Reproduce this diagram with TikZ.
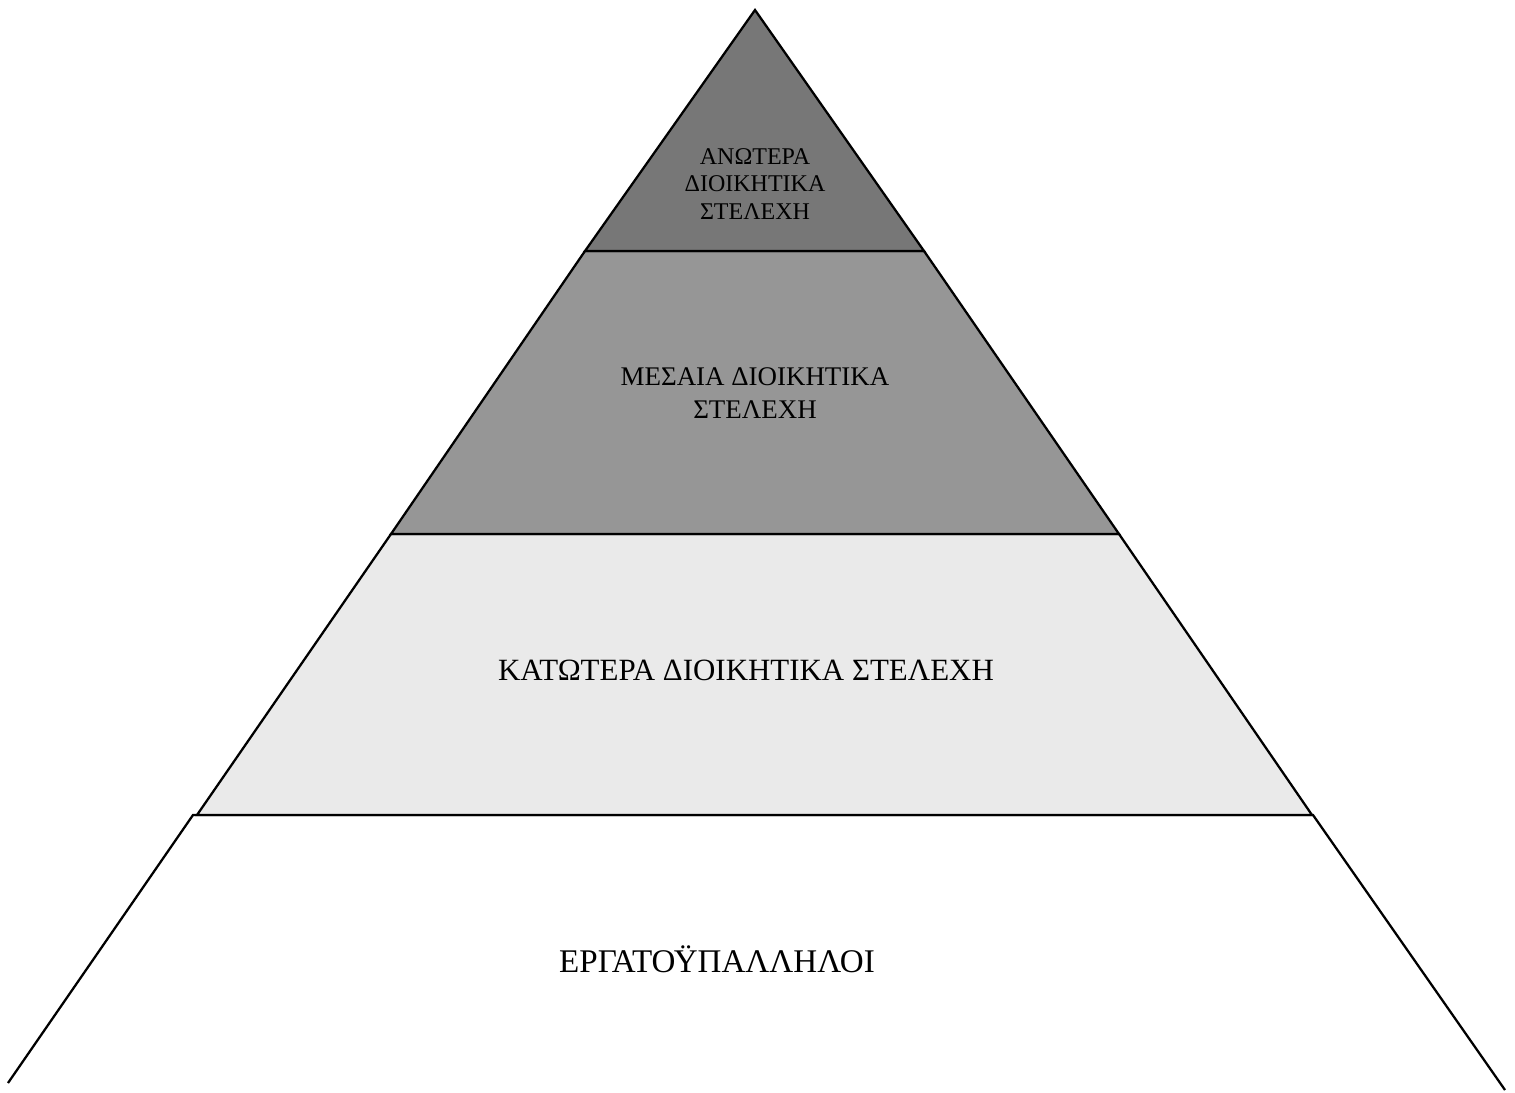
\documentclass[tikz,border=0pt]{standalone}
\usepackage{fontspec}
\setmainfont{Liberation Serif}
\definecolor{topgray}{HTML}{777777}
\definecolor{midgray}{HTML}{969696}
\definecolor{lowgray}{HTML}{EAEAEA}
\begin{document}
\begin{tikzpicture}[x=0.375pt,y=-0.375pt,
  band/.style={draw=black,line width=0.85pt,line join=miter},
  lbl/.style={inner sep=0pt,align=center,text=black}]
\useasboundingbox (0,0) rectangle (1515,1092);
% pyramid tiers, from the base up
\draw[band,fill=white] (8,1083) -- (193,815) -- (1313,815) -- (1505,1090);
\draw[band,fill=lowgray] (197,815) -- (391,534) -- (1119,534) -- (1312,815) -- cycle;
\draw[band,fill=midgray] (391,534) -- (585,251) -- (924,251) -- (1119,534) -- cycle;
\draw[band,fill=topgray] (585,251) -- (755,10) -- (924,251) -- cycle;
% tier labels
\node[lbl,font=\fontsize{9}{10.3}\selectfont] (top) at (755,184)
  {ΑΝΩΤΕΡΑ\\ΔΙΟΙΚΗΤΙΚΑ\\ΣΤΕΛΕΧΗ};
\node[lbl,font=\fontsize{10.1}{12.4}\selectfont] (mid) at (755,393)
  {ΜΕΣΑΙΑ ΔΙΟΙΚΗΤΙΚΑ\\ΣΤΕΛΕΧΗ};
\node[lbl,font=\fontsize{11.6}{14}\selectfont,anchor=base] (low) at (746,680)
  {ΚΑΤΩΤΕΡΑ ΔΙΟΙΚΗΤΙΚΑ ΣΤΕΛΕΧΗ};
\node[lbl,font=\fontsize{12.4}{14}\selectfont,anchor=base] (base) at (717,972)
  {ΕΡΓΑΤΟΫΠΑΛΛΗΛΟΙ};
\end{tikzpicture}
\end{document}
